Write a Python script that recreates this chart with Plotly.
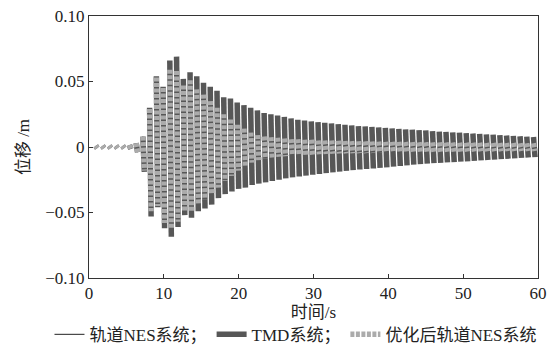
import plotly.graph_objects as go

# Peak (crest) times of each oscillation stroke, s
crest_t = [0.9, 1.8, 2.7, 3.6, 4.5, 5.4, 6.3, 7.2, 8.1, 9.0, 9.9, 10.8, 11.7, 12.6,
           13.5, 14.4, 15.3, 16.2, 17.1, 18.0, 18.9, 19.8, 20.7, 21.6, 22.5, 23.4,
           24.3, 25.2, 26.1, 27.0, 27.9, 28.8, 29.7, 30.6, 31.5, 32.4, 33.3, 34.2,
           35.1, 36.0, 36.9, 37.8, 38.7, 39.6, 40.5, 41.4, 42.3, 43.2, 44.1, 45.0,
           45.9, 46.8, 47.7, 48.6, 49.5, 50.4, 51.3, 52.2, 53.1, 54.0, 54.9, 55.8,
           56.7, 57.6, 58.5, 59.4]
# Trough times following each crest, s
trough_t = [1.1, 2.0, 2.9, 3.8, 4.7, 5.6, 6.5, 7.4, 8.3, 9.2, 10.1, 11.0, 11.9, 12.8,
            13.7, 14.6, 15.5, 16.4, 17.3, 18.2, 19.1, 20.0, 20.9, 21.8, 22.7, 23.6,
            24.5, 25.4, 26.3, 27.2, 28.1, 29.0, 29.9, 30.8, 31.7, 32.6, 33.5, 34.4,
            35.3, 36.2, 37.1, 38.0, 38.9, 39.8, 40.7, 41.6, 42.5, 43.4, 44.3, 45.2,
            46.1, 47.0, 47.9, 48.8, 49.7, 50.6, 51.5, 52.4, 53.3, 54.2, 55.1, 56.0,
            56.9, 57.8, 58.7, 59.6]

# TMD system displacement, m
tmd_hi = [0.0008, 0.0008, 0.0008, 0.0008, 0.0008, 0.0015, 0.003, 0.008,
          0.030, 0.054, 0.046, 0.066, 0.069, 0.052, 0.057, 0.054, 0.049, 0.046,
          0.043, 0.038, 0.037, 0.034, 0.032, 0.030, 0.028, 0.026, 0.025, 0.024,
          0.023, 0.0218, 0.0208, 0.0202, 0.0196, 0.019, 0.0185, 0.018, 0.0175,
          0.017, 0.0165, 0.016, 0.0157, 0.0153, 0.015, 0.0146, 0.0142, 0.0138,
          0.0135, 0.0132, 0.0129, 0.0126, 0.0122, 0.0118, 0.0115, 0.0112, 0.0109,
          0.0106, 0.0103, 0.0100, 0.0097, 0.0094, 0.0091, 0.0088, 0.0085, 0.0082,
          0.0079, 0.0076]
tmd_lo = [-0.0008, -0.0008, -0.0008, -0.0008, -0.0008, -0.0015, -0.004, -0.019,
          -0.053, -0.046, -0.062, -0.0685, -0.061, -0.052, -0.054, -0.049, -0.047,
          -0.044, -0.039, -0.036, -0.034, -0.032, -0.031, -0.029, -0.028, -0.027,
          -0.026, -0.025, -0.024, -0.0232, -0.0225, -0.0218, -0.0212, -0.0206,
          -0.020, -0.0194, -0.0188, -0.0182, -0.0177, -0.0172, -0.0168, -0.0164,
          -0.016, -0.0155, -0.015, -0.0145, -0.014, -0.0135, -0.013, -0.0127,
          -0.0124, -0.0121, -0.0118, -0.0115, -0.0112, -0.0109, -0.0106, -0.0102,
          -0.0099, -0.0096, -0.0093, -0.009, -0.0087, -0.0083, -0.008, -0.0077]

# Track NES system displacement, m
nes_hi = [0.0008, 0.0008, 0.0008, 0.0008, 0.0008, 0.0015, 0.003, 0.008,
          0.029, 0.053, 0.045, 0.062, 0.063, 0.049, 0.053, 0.048, 0.044, 0.040,
          0.036, 0.031, 0.028, 0.024, 0.021, 0.018, 0.016, 0.014, 0.013, 0.012,
          0.011, 0.0105, 0.010, 0.0095, 0.009, 0.0088, 0.0085, 0.0083, 0.008,
          0.0078, 0.0076, 0.0074, 0.0072, 0.007, 0.0068, 0.0066, 0.0065, 0.0063,
          0.0062, 0.006, 0.0059, 0.0058, 0.0057, 0.0056, 0.0055, 0.0054, 0.0053,
          0.0052, 0.0051, 0.005, 0.0049, 0.0048, 0.0047, 0.0046, 0.0046, 0.0045,
          0.0044, 0.0044]
nes_lo = [-0.0008, -0.0008, -0.0008, -0.0008, -0.0008, -0.0015, -0.004, -0.018,
          -0.050, -0.045, -0.060, -0.065, -0.059, -0.050, -0.051, -0.046, -0.043,
          -0.040, -0.035, -0.031, -0.028, -0.025, -0.022, -0.019, -0.017, -0.015,
          -0.014, -0.013, -0.012, -0.0115, -0.011, -0.0105, -0.010, -0.0096,
          -0.0093, -0.009, -0.0087, -0.0084, -0.0082, -0.008, -0.0078, -0.0076,
          -0.0074, -0.0072, -0.007, -0.0068, -0.0067, -0.0065, -0.0064, -0.0062,
          -0.0061, -0.006, -0.0059, -0.0058, -0.0057, -0.0056, -0.0055, -0.0054,
          -0.0053, -0.0052, -0.0051, -0.005, -0.0049, -0.0048, -0.0048, -0.0047]

# Optimised track NES system displacement, m
opt_hi = [0.0008, 0.0008, 0.0008, 0.0008, 0.0008, 0.0015, 0.003, 0.008,
          0.029, 0.053, 0.045, 0.059, 0.058, 0.047, 0.051, 0.044, 0.040, 0.035,
          0.030, 0.025, 0.021, 0.017, 0.014, 0.011, 0.009, 0.008, 0.0075, 0.007,
          0.0065, 0.006, 0.006, 0.0055, 0.0055, 0.005, 0.005, 0.005, 0.0048,
          0.0046, 0.0045, 0.0044, 0.0043, 0.0042, 0.0041, 0.004, 0.004, 0.0039,
          0.0038, 0.0037, 0.0036, 0.0036, 0.0035, 0.0035, 0.0034, 0.0034, 0.0033,
          0.0033, 0.0032, 0.0032, 0.0031, 0.0031, 0.003, 0.003, 0.003, 0.0029,
          0.0029, 0.0028]
opt_lo = [-0.0008, -0.0008, -0.0008, -0.0008, -0.0008, -0.0015, -0.004, -0.018,
          -0.049, -0.045, -0.058, -0.062, -0.057, -0.049, -0.049, -0.044, -0.040,
          -0.036, -0.031, -0.026, -0.022, -0.018, -0.015, -0.012, -0.010, -0.009,
          -0.008, -0.0075, -0.007, -0.0065, -0.0062, -0.006, -0.0058, -0.0055,
          -0.0053, -0.0052, -0.005, -0.0049, -0.0048, -0.0047, -0.0046, -0.0045,
          -0.0044, -0.0043, -0.0042, -0.0041, -0.004, -0.004, -0.0039, -0.0038,
          -0.0037, -0.0037, -0.0036, -0.0035, -0.0035, -0.0034, -0.0034, -0.0033,
          -0.0033, -0.0032, -0.0032, -0.0031, -0.0031, -0.003, -0.003, -0.003]

series_names = ["轨道NES系统；", "TMD系统；", "优化后轨道NES系统"]
x_ticks = [0, 10, 20, 30, 40, 50, 60]
y_ticks = [-0.10, -0.05, 0, 0.05, 0.10]
y_tick_text = ["−0.10", "−0.05", "0", "0.05", "0.10"]


def strokes(hi, lo):
    """Crest-to-trough strokes, one segment per oscillation."""
    xs, ys = [], []
    for tc, h, tt, l in zip(crest_t, hi, trough_t, lo):
        xs += [tc, tt, None]
        ys += [h, l, None]
    return xs, ys


FONT = "Liberation Serif, 'Times New Roman', 'Noto Sans CJK SC', serif"
TEXT = "#222222"

fig = go.Figure()

x, y = strokes(nes_hi, nes_lo)
fig.add_trace(go.Scatter(x=x, y=y, mode="lines", name=series_names[0],
                         line=dict(color="#222222", width=1), hoverinfo="skip"))
x, y = strokes(tmd_hi, tmd_lo)
fig.add_trace(go.Scatter(x=x, y=y, mode="lines", name=series_names[1],
                         line=dict(color="#575757", width=5.5), hoverinfo="skip"))
x, y = strokes(opt_hi, opt_lo)
fig.add_trace(go.Scatter(x=x, y=y, mode="lines", name=series_names[2],
                         line=dict(color="#ababab", width=5.5, dash="4px,1.5px"),
                         hoverinfo="skip"))

axis_common = dict(
    showline=True, linecolor="#333333", linewidth=1, mirror=True,
    ticks="inside", ticklen=4, tickcolor="#333333", showgrid=False,
    zeroline=False, tickfont=dict(family=FONT, size=17, color=TEXT),
)

fig.update_layout(
    width=557, height=347,
    margin=dict(l=89, r=19, t=16, b=69, autoexpand=False),
    paper_bgcolor="white", plot_bgcolor="white",
    font=dict(family=FONT, size=17, color=TEXT),
    showlegend=True,
    legend=dict(orientation="h", x=-0.088, xanchor="left", y=-0.148,
                yanchor="top", font=dict(family=FONT, size=17, color=TEXT),
                itemwidth=30, tracegroupgap=0, bgcolor="rgba(0,0,0,0)"),
    xaxis=dict(range=[0, 60], tickvals=x_ticks, **axis_common,
               title=dict(text="时间/s", standoff=2,
                          font=dict(family=FONT, size=17, color=TEXT))),
    yaxis=dict(range=[-0.10, 0.10], tickvals=y_ticks, ticktext=y_tick_text,
               **axis_common,
               title=dict(text="位移 /m", standoff=11,
                          font=dict(family=FONT, size=17, color=TEXT))),
)

fig.write_html("out.html")
